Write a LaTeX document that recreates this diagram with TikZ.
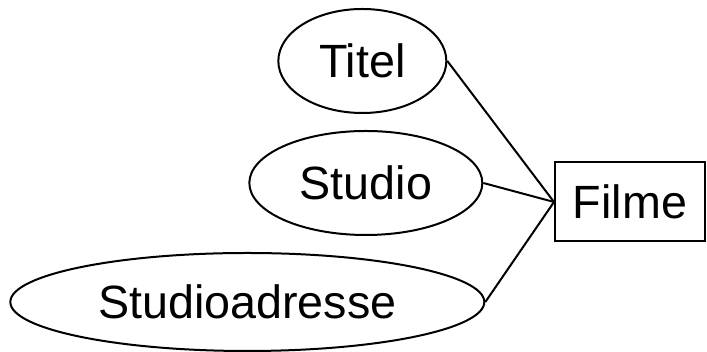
\documentclass[tikz,border=0pt]{standalone}
\usepackage{fontspec}
\setmainfont{Liberation Sans}
\usetikzlibrary{positioning,shapes.geometric}
\tikzset{
  entitybox/.style={rectangle, draw=black, line width=1.5pt, fill=white,
    minimum width=112.5pt, minimum height=59.25pt, inner sep=0pt,
    align=center, font=\fontsize{35}{42}\selectfont},
  attribute/.style={ellipse, draw=black, line width=1.5pt, fill=white,
    minimum height=78pt, inner sep=0pt,
    align=center, font=\fontsize{35}{42}\selectfont},
  link/.style={draw=black, line width=1.5pt}
}
\begin{document}
\begin{tikzpicture}
  \useasboundingbox (0,0) rectangle (530.25pt,264pt);

  % --- entity ---
  \node[entitybox] (filme) at (472.5pt,112.5pt) {Filme};

  % --- attributes ---
  \node[attribute, minimum width=126pt, left=80pt of filme, yshift=105.75pt] (titel) {Titel};
  \node[attribute, minimum width=174.75pt, left=53pt of filme, yshift=14.25pt] (studio) {Studio};
  \node[attribute, minimum width=355.5pt, minimum height=73.5pt,
        left=51.5pt of filme, yshift=-75pt] (adresse) {Studioadresse};

  % ---------------- edges ----------------
  \draw[link] (titel.east) -- (filme.west);
  \draw[link] (studio.east) -- (filme.west);
  \draw[link] (adresse.east) -- (filme.west);

\end{tikzpicture}
\end{document}
